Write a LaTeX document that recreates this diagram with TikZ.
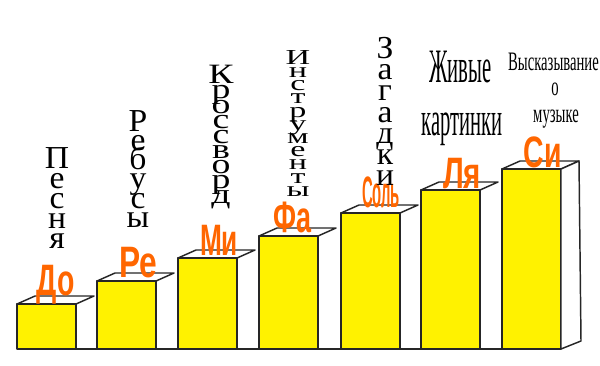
\documentclass[tikz,border=0pt]{standalone}
\usepackage{fontspec}
\setmainfont{Liberation Serif}
\newfontfamily\notefont{Liberation Sans}
\usepackage{graphicx}
\definecolor{noteorange}{HTML}{FF6600}
\newcommand\tightlines{\lineskiplimit=-50pt\relax\lineskip=0pt\relax}
\tikzset{
  barline/.style={draw=black!85, line width=1.1pt, line join=round},
  frontface/.style={barline, fill=yellow},
  topface/.style={barline, fill=white},
  vstack/.style={anchor=north, inner sep=0pt, align=center, text=black, transform shape},
  hword/.style={anchor=base, inner sep=0pt, text=black},
  notelabel/.style={anchor=base, inner sep=0pt, text=noteorange,
    font=\notefont\bfseries\fontsize{33}{33}\selectfont},
}
% name, x, top y, line skip (pt), font size (pt), xscale, letters
\newcommand\vword[7]{%
  \node[vstack, xscale=#6, font={\fontsize{#5}{#4}\selectfont\tightlines}] (#1) at (#2,#3) {#7};}
\begin{document}
\begin{tikzpicture}[x=0.75pt,y=-0.75pt]
\useasboundingbox (0,0) rectangle (600,365);
% bars
\foreach \L/\T in {17/304, 97/281, 178/258, 259/236, 341/213, 421/190, 502/169}{
  \draw[topface] (\L,\T) -- ++(18,-8) -- ++(59,0) -- ++(-18,8) -- cycle;
  \draw[frontface] (\L,\T) rectangle ++(59,{349-\T});
}
\draw[topface] (561,169) -- (579,161) -- (581,341) -- (561,349) -- cycle;
\draw[barline] (17,349) -- (561,349);
% note names
\foreach \t/\x/\y [count=\i] in {До/56/295, Ре/138.5/277, Ми/219/255, Фа/292/232, Соль/381/207, Ля/462/188, Си/542.5/167}{
  \node[notelabel] (note\i) at (\x,\y) {\resizebox{28.5pt}{\height}{\t}};
}
% vertical words
\vword{pesnya}{57}{147}{15}{24}{1.05}{П\\е\\с\\н\\я}
\vword{rebusy}{138}{110}{14.4}{24}{1.05}{Р\\е\\б\\у\\с\\ы}
\vword{kross}{221}{65}{11.25}{21}{1.35}{К\\р\\о\\с\\с\\в\\о\\р\\д}
\vword{instr}{298}{50}{9.9}{16}{1.6}{И\\н\\с\\т\\р\\у\\м\\е\\н\\т\\ы}
\vword{zagad}{385}{37}{15.9}{24}{1.05}{З\\а\\г\\а\\д\\к\\и}
% horizontal words
\node[hword, font=\fontsize{36}{36}\selectfont] (zhivye) at (460.5,82) {\scalebox{0.43}[1]{Живые}};
\node[hword, font=\fontsize{36}{36}\selectfont] (kartinki) at (462,135) {\scalebox{0.43}[1]{картинки}};
\node[hword, font=\fontsize{20}{20}\selectfont] (vysk) at (553.5,70) {\scalebox{0.55}[1]{Высказывание}};
\node[hword, font=\fontsize{20}{20}\selectfont] (o) at (555,95) {\scalebox{0.55}[1]{о}};
\node[hword, font=\fontsize{20}{20}\selectfont] (muz) at (556,122) {\scalebox{0.55}[1]{музыке}};
\end{tikzpicture}
\end{document}
